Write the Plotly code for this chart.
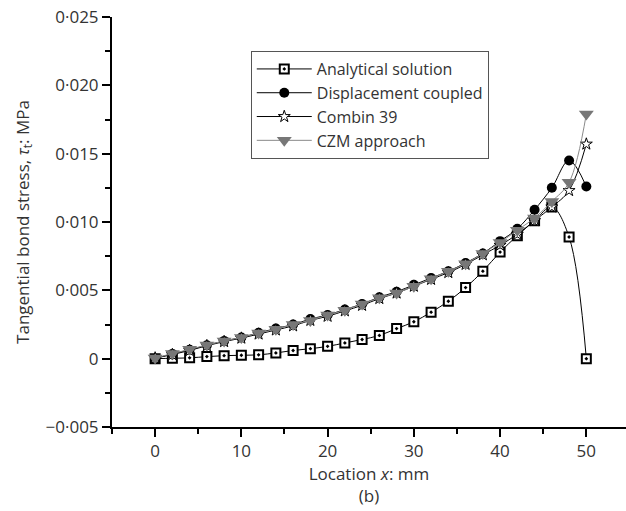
import plotly.graph_objects as go

x_mm = [0, 2, 4, 6, 8, 10, 12, 14, 16, 18, 20, 22, 24, 26, 28, 30, 32, 34, 36, 38, 40, 42, 44, 46, 48, 50]

analytical = [0.0, 0.00003, 0.00006, 0.00015, 0.00022, 0.00025, 0.00028, 0.00042, 0.0006, 0.00073,
              0.0009, 0.00115, 0.0014, 0.0017, 0.0022, 0.0027, 0.0034, 0.0042, 0.0052, 0.0064,
              0.0078, 0.0090, 0.0101, 0.0111, 0.0089, 0.0]
displacement = [0.0, 0.00035, 0.00065, 0.00098, 0.0013, 0.00155, 0.0019, 0.0022, 0.0025, 0.0029,
                0.0032, 0.0036, 0.0040, 0.0045, 0.0049, 0.0054, 0.0059, 0.0064, 0.0070, 0.0077,
                0.0086, 0.0095, 0.0109, 0.0125, 0.0145, 0.0126]
combin39 = [0.00005, 0.0003, 0.0006, 0.00095, 0.00125, 0.0015, 0.0018, 0.0021, 0.0024, 0.0028,
            0.0031, 0.0035, 0.0039, 0.0044, 0.0048, 0.0053, 0.0058, 0.0063, 0.0069, 0.0076,
            0.0083, 0.0091, 0.0101, 0.0111, 0.0123, 0.0157]
czm = [0.00005, 0.00037, 0.00068, 0.0010, 0.0013, 0.00155, 0.00188, 0.00215, 0.0025, 0.0028,
       0.0032, 0.00355, 0.0040, 0.00445, 0.0048, 0.0053, 0.00585, 0.0064, 0.00695, 0.0077,
       0.0085, 0.0094, 0.0103, 0.0115, 0.0129, 0.0179]

y_tickvals = [-0.005, 0, 0.005, 0.010, 0.015, 0.020, 0.025]
y_ticktext = ["\u22120\u00b7005", "0", "0\u00b7005", "0\u00b7010", "0\u00b7015", "0\u00b7020", "0\u00b7025"]
x_tickvals = [0, 10, 20, 30, 40, 50]

FONT = "Open Sans, Noto Sans, sans-serif"
TXT = "#333333"
FS = 17

fig = go.Figure()
fig.add_trace(go.Scatter(
    x=x_mm, y=analytical, name="Analytical solution", mode="lines+markers",
    line=dict(color="black", width=1, shape="spline", smoothing=1),
    marker=dict(symbol="square-dot", size=9, color="white", line=dict(color="black", width=2))))
fig.add_trace(go.Scatter(
    x=x_mm, y=displacement, name="Displacement coupled", mode="lines+markers",
    line=dict(color="black", width=1, shape="spline", smoothing=1),
    marker=dict(symbol="circle", size=10, color="black")))
fig.add_trace(go.Scatter(
    x=x_mm, y=combin39, name="Combin 39", mode="lines+markers",
    line=dict(color="black", width=1, shape="spline", smoothing=1),
    marker=dict(symbol="star", size=9, color="white", line=dict(color="black", width=1))))
fig.add_trace(go.Scatter(
    x=x_mm, y=czm, name="CZM approach", mode="lines+markers",
    line=dict(color="#8a8a8a", width=1, shape="spline", smoothing=1),
    marker=dict(symbol="triangle-down", size=13, color="#777777")))

fig.update_layout(
    width=626, height=511,
    margin=dict(l=112, r=0, t=17, b=84),
    paper_bgcolor="white", plot_bgcolor="white",
    font=dict(family=FONT, size=FS, color=TXT),
    showlegend=True,
    legend=dict(x=0.27, y=0.917, xanchor="left", yanchor="top",
                bordercolor="#555555", borderwidth=1, bgcolor="white",
                font=dict(family=FONT, size=16, color=TXT),
                tracegroupgap=0, itemwidth=55),
    xaxis=dict(range=[-5, 54.6], showgrid=False, zeroline=False,
               showline=True, linecolor="black", linewidth=2,
               tickmode="array", tickvals=x_tickvals,
               ticks="outside", ticklen=8, tickwidth=2, tickcolor="black",
               minor=dict(tickmode="linear", tick0=-5, dtick=5, ticks="outside", ticklen=5,
                          tickwidth=2, tickcolor="black", showgrid=False),
               tickfont=dict(size=FS, color=TXT),
               title=dict(text="Location <i>x</i>: mm<br>(b)", standoff=2,
                          font=dict(size=FS, color=TXT))),
    yaxis=dict(range=[-0.005, 0.025], showgrid=False, zeroline=False,
               showline=True, linecolor="black", linewidth=2,
               tickmode="array", tickvals=y_tickvals, ticktext=y_ticktext,
               ticks="outside", ticklen=8, tickwidth=2, tickcolor="black",
               minor=dict(tickmode="linear", tick0=-0.005, dtick=0.0025, ticks="outside", ticklen=5,
                          tickwidth=2, tickcolor="black", showgrid=False),
               tickfont=dict(size=FS, color=TXT),
               title=dict(text="Tangential bond stress, <i>\u03c4</i><sub>t</sub>: MPa", standoff=12,
                          font=dict(size=FS, color=TXT))),
)

fig.write_html("out.html")
